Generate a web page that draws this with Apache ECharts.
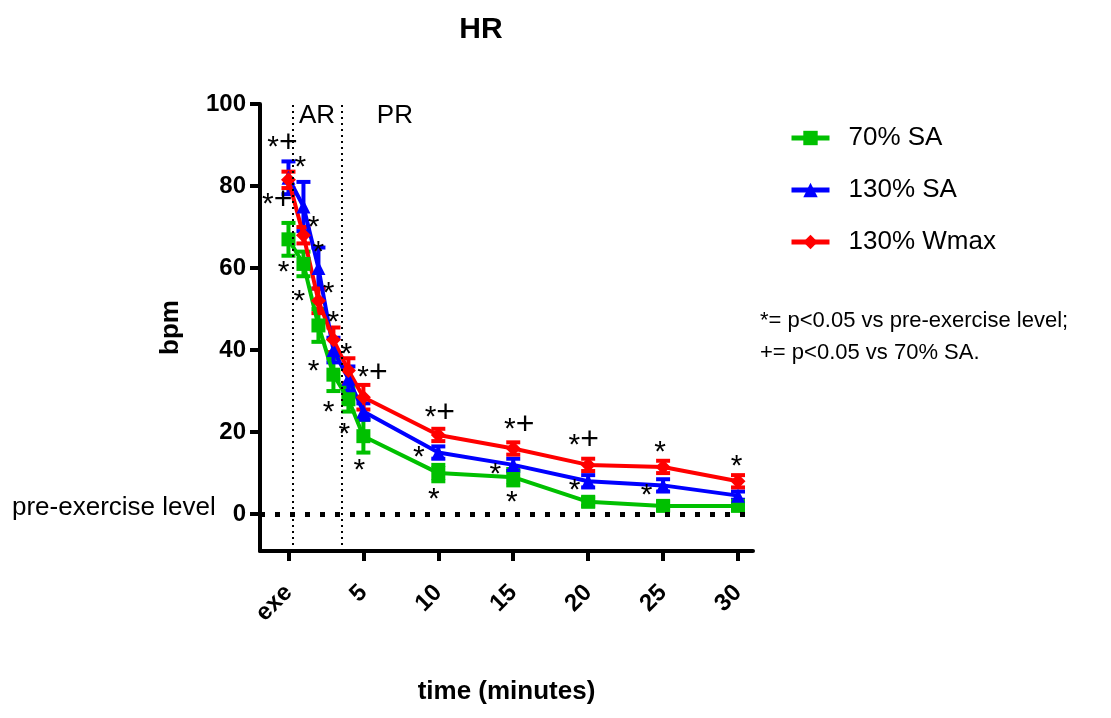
<!DOCTYPE html>
<html>
<head>
<meta charset="utf-8">
<script src="https://cdn.jsdelivr.net/npm/echarts@6/dist/echarts.min.js"></script>
<style>
html,body{margin:0;padding:0;background:#fff;}
#chart{width:1111px;height:718px;}
</style>
</head>
<body>
<div id="chart"></div>
<script>
// DATA
const times = [0, 1, 2, 3, 4, 5, 10, 15, 20, 25, 30];
const xTickValues = [0, 5, 10, 15, 20, 25, 30];
const xTickLabels = ['exe', '5', '10', '15', '20', '25', '30'];
const yTickValues = [0, 20, 40, 60, 80, 100];

const sa70 = [67, 61, 46, 34, 28, 19, 10, 9, 3, 2, 2];
const sa70Err = [4, 3, 4, 4, 3, 4, 2, 2, 1, 1, 1];
const sa130 = [82, 75, 60, 40, 33, 25, 15, 12, 8, 7, 4.5];
const sa130Err = [4, 6, 5, 3, 3, 2, 1.5, 1.5, 1.5, 1.5, 1];
const wmax130 = [81.5, 68, 52, 42.5, 35, 28.5, 19.3, 16, 12, 11.5, 8];
const wmax130Err = [2, 2, 3, 3, 3, 3, 1.5, 1.5, 1.5, 1.5, 1.5];

// phase boundaries (dotted verticals) and labels
const phaseLines = [0.27, 3.53];
const phaseLabels = [['AR', 1.9, 97], ['PR', 7.1, 97]];

// significance marks: [x, y, text]
const sigMarks = [
  [-0.4, 90.5, '*+'], [0.8, 85.6, '*'], [-0.75, 76.6, '*+'], [-0.33, 60, '*'],
  [1.67, 71, '*'], [2.0, 65, '*'], [0.73, 53, '*'], [2.67, 55, '*'],
  [3.0, 48, '*'], [1.67, 36, '*'], [3.87, 40, '*'], [5.6, 34.4, '*+'],
  [2.67, 26, '*'], [3.73, 20.5, '*'], [4.73, 11.7, '*'],
  [10.1, 24.6, '*+'], [8.7, 15, '*'], [9.7, 4.6, '*'],
  [15.4, 21.7, '*+'], [13.8, 10.7, '*'], [14.9, 3.9, '*'],
  [19.7, 18, '*+'], [19.1, 6.8, '*'],
  [24.8, 16.3, '*'], [23.9, 5.6, '*'],
  [29.9, 12.7, '*']
];

const FONT = '"Liberation Sans", Arial, sans-serif';
const GREEN = '#00c000', BLUE = '#0000ff', RED = '#ff0000';

function pairs(vals){ return times.map((t,i)=>[t, vals[i]]); }
function errData(vals, errs){ return times.map((t,i)=>[t, vals[i]-errs[i], vals[i]+errs[i]]); }

function errSeries(vals, errs, color){
  return {
    type: 'custom', z: 3, silent: true,
    data: errData(vals, errs),
    renderItem: function(params, api){
      const lo = api.coord([api.value(0), api.value(1)]);
      const hi = api.coord([api.value(0), api.value(2)]);
      const w = 7;
      const st = {stroke: color, lineWidth: 4};
      return {type: 'group', children: [
        {type:'line', shape:{x1:lo[0],y1:lo[1],x2:hi[0],y2:hi[1]}, style:st},
        {type:'line', shape:{x1:lo[0]-w,y1:lo[1],x2:lo[0]+w,y2:lo[1]}, style:st},
        {type:'line', shape:{x1:hi[0]-w,y1:hi[1],x2:hi[0]+w,y2:hi[1]}, style:st}
      ]};
    }
  };
}

function lineSeries(name, vals, color, symbol, size){
  return {
    type: 'line', name: name, z: 4,
    data: pairs(vals),
    symbol: symbol, symbolSize: size, showAllSymbol: true,
    lineStyle: {color: color, width: 4},
    itemStyle: {color: color},
    animation: false
  };
}

const chart = echarts.init(document.getElementById('chart'), null, {renderer: 'canvas'});

const sa70Line = lineSeries('70% SA', sa70, GREEN, 'rect', 14);
sa70Line.markLine = {
  silent: true, symbol: 'none', label: {show: false}, animation: false,
  lineStyle: {color: '#000', width: 5, type: [5, 10]},
  data: [{yAxis: 0}]
};
const sa130Line = lineSeries('130% SA', sa130, BLUE, 'triangle', 14);
const wmaxLine = lineSeries('130% Wmax', wmax130, RED, 'diamond', 15);

chart.setOption({
  animation: false,
  backgroundColor: '#fff',
  title: {
    text: 'HR', left: 476, top: 10, textAlign: 'center',
    textStyle: {fontFamily: FONT, fontSize: 30, fontWeight: 'bold', color: '#000'}
  },
  legend: {
    orient: 'vertical', left: 784, top: 120, itemGap: 26,
    itemWidth: 38, itemHeight: 18,
    data: ['70% SA', '130% SA', '130% Wmax'],
    lineStyle: {width: 5},
    textStyle: {fontFamily: FONT, fontSize: 26, color: '#000', padding: [0, 0, 0, 14]}
  },
  grid: {left: 260, right: 358, top: 104, bottom: 167, containLabel: false},
  xAxis: {
    type: 'value', min: -1.9, max: 31,
    name: 'time (minutes)', nameLocation: 'middle', nameGap: 128,
    nameTextStyle: {fontFamily: FONT, fontSize: 26, fontWeight: 'bold', color: '#000'},
    splitLine: {show: false},
    axisLine: {onZero: false, lineStyle: {color: '#000', width: 4}},
    axisTick: {customValues: xTickValues, length: 10, lineStyle: {color: '#000', width: 4}},
    axisLabel: {
      customValues: xTickValues, rotate: 45, margin: 38,
      fontFamily: FONT, fontSize: 24, fontWeight: 'bold', color: '#000',
      formatter: v => xTickLabels[xTickValues.indexOf(v)]
    }
  },
  yAxis: {
    type: 'value', min: -9, max: 100,
    name: 'bpm', nameLocation: 'middle', nameGap: 76, nameRotate: 90,
    nameTextStyle: {fontFamily: FONT, fontSize: 26, fontWeight: 'bold', color: '#000'},
    splitLine: {show: false},
    axisLine: {onZero: false, lineStyle: {color: '#000', width: 4}},
    axisTick: {customValues: yTickValues, length: 10, lineStyle: {color: '#000', width: 4}},
    axisLabel: {
      customValues: yTickValues, margin: 14,
      fontFamily: FONT, fontSize: 24, fontWeight: 'bold', color: '#000'
    }
  },
  graphic: [
    {type: 'text', left: 12, top: 495, style: {text: 'pre-exercise level', fontFamily: FONT, fontSize: 26, fill: '#000'}},
    {type: 'text', left: 760, top: 305, style: {text: '*= p<0.05 vs pre-exercise level;\n+= p<0.05 vs 70% SA.', fontFamily: FONT, fontSize: 22, lineHeight: 32, fill: '#000'}}
  ],
  series: [
    errSeries(sa70, sa70Err, GREEN),
    errSeries(sa130, sa130Err, BLUE),
    errSeries(wmax130, wmax130Err, RED),
    sa70Line, sa130Line, wmaxLine,
    {
      type: 'line', silent: true, z: 2, symbol: 'none', data: [],
      markLine: {
        silent: true, symbol: 'none', label: {show: false}, animation: false,
        lineStyle: {color: '#000', width: 2, type: [2, 4]},
        data: phaseLines.map(x => ({xAxis: x}))
      }
    },
    {
      type: 'scatter', z: 5, silent: true, symbolSize: 0,
      itemStyle: {opacity: 1},
      data: sigMarks.map(m => ({value: [m[0], m[1]], name: m[2]})),
      label: {
        show: true, position: 'inside', textBorderWidth: 0,
        formatter: p => p.name.replace('*', '{s|*}').replace('+', '{p|+}'),
        rich: {
          s: {fontFamily: FONT, fontSize: 30, color: '#000', padding: [10, 0, 0, 0]},
          p: {fontFamily: FONT, fontSize: 32, color: '#000'}
        }
      }
    },
    {
      type: 'scatter', z: 5, silent: true, symbolSize: 0,
      itemStyle: {opacity: 1},
      data: phaseLabels.map(m => ({value: [m[1], m[2]], name: m[0]})),
      label: {show: true, position: 'inside', textBorderWidth: 0, formatter: p => p.name,
        fontFamily: FONT, fontSize: 26, color: '#000'}
    }
  ]
});
</script>
</body>
</html>
